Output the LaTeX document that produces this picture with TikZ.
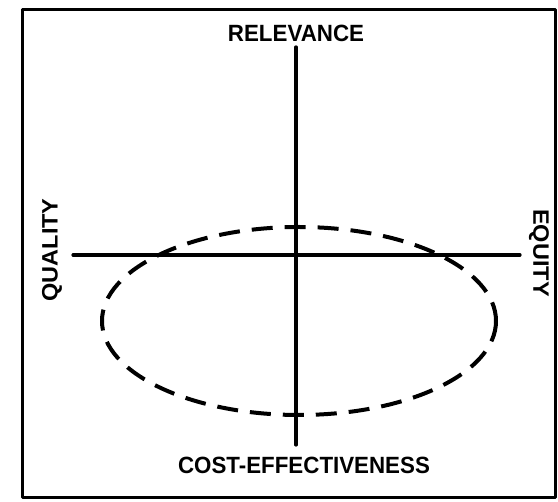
\documentclass[tikz,border=0pt]{standalone}
\usepackage{fontspec}
\setmainfont{Liberation Sans}
\begin{document}
\begin{tikzpicture}[line cap=round,line join=round,x=1pt,y=-1pt,
  axislabel/.style={font=\fontsize{23.5}{24}\selectfont\bfseries,inner sep=0pt,xscale=0.95}]
\useasboundingbox (0,0) rectangle (558,502);
\draw [line width=3pt] (22,10) rectangle (555,498);
% labels
\node [axislabel] (relevance) at (296,33) {RELEVANCE};
\node [axislabel] (costeff) at (304,465) {COST-EFFECTIVENESS};
\node [axislabel,rotate=90] (quality) at (52,250) {QUALITY};
\node [axislabel,rotate=-90] (equity) at (539,253) {EQUITY};
% axes
\coordinate (top) at (296,47);
\coordinate (bottom) at (296,445);
\coordinate (left) at (73,255);
\coordinate (right) at (520,255);
\draw [line width=3.2pt] (top)--(bottom);
\draw [line width=3.2pt] (left)--(right);
% ellipse
\draw [line width=4pt,line cap=butt,dash pattern=on 21pt off 12pt] (299,321) ellipse [x radius=197, y radius=94];
\end{tikzpicture}
\end{document}
